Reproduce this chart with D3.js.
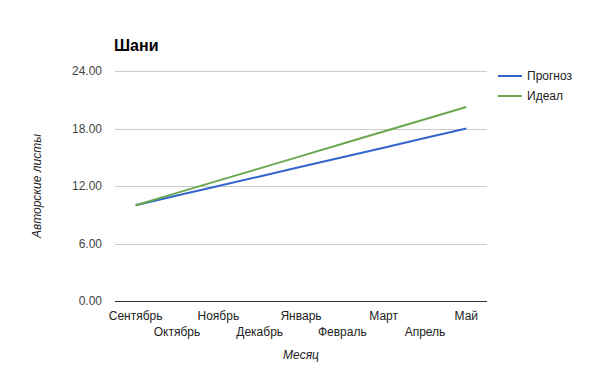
<!DOCTYPE html>
<html>
<head>
<meta charset="utf-8">
<script src="https://cdn.jsdelivr.net/npm/d3@7"></script>
<style>
  html, body { margin: 0; padding: 0; background: #fff; overflow: hidden; }
  svg { display: block; }
  text { font-family: "Liberation Sans", Arial, sans-serif; }
</style>
</head>
<body>
<script>
var width = 600, height = 373;
var margin = {left: 115, top: 71, right: 113, bottom: 72};

// Months
var months = ["Сентябрь", "Октябрь", "Ноябрь", "Декабрь", "Январь", "Февраль", "Март", "Апрель", "Май"];
// Series
var forecast = [10, 11, 12, 13, 14, 15, 16, 17, 18];
var ideal = [10, 11.28, 12.56, 13.84, 15.12, 16.4, 17.68, 18.96, 20.25];
var yTicks = [0, 6, 12, 18, 24];
var seriesNames = ["Прогноз", "Идеал"];
var colors = ["#3366cc", "#6aa84f"];

var svg = d3.select("body").append("svg")
    .attr("width", width)
    .attr("height", height);

var innerWidth = width - margin.left - margin.right;
var innerHeight = height - margin.top - margin.bottom;

var x = d3.scalePoint()
    .domain(months)
    .range([margin.left, margin.left + innerWidth])
    .padding(0.5);

var y = d3.scaleLinear()
    .domain([0, 24])
    .range([margin.top + innerHeight, margin.top]);

// title
svg.append("text")
    .attr("x", 114)
    .attr("y", 51)
    .attr("font-size", 16)
    .attr("font-weight", "bold")
    .attr("fill", "#000")
    .text("Шани");

// gridlines + y labels
svg.append("g").selectAll("line")
    .data(yTicks)
    .enter().append("line")
    .attr("x1", margin.left)
    .attr("x2", margin.left + innerWidth)
    .attr("y1", function(d) { return Math.round(y(d)) + 0.5; })
    .attr("y2", function(d) { return Math.round(y(d)) + 0.5; })
    .attr("stroke", function(d) { return d === 0 ? "#333" : "#ccc"; })
    .attr("stroke-width", 1);

svg.append("g").selectAll("text")
    .data(yTicks)
    .enter().append("text")
    .attr("x", 102)
    .attr("y", function(d) { return y(d) + 4; })
    .attr("text-anchor", "end")
    .attr("font-size", 12)
    .attr("fill", "#444")
    .text(function(d) { return d3.format(".2f")(d); });

// x labels, two rows
svg.append("g").selectAll("text")
    .data(months)
    .enter().append("text")
    .attr("x", function(d) { return x(d); })
    .attr("y", function(d, i) { return i % 2 === 0 ? 320 : 336; })
    .attr("text-anchor", "middle")
    .attr("font-size", 12)
    .attr("fill", "#222")
    .text(function(d) { return d; });

// axis titles
svg.append("text")
    .attr("x", x("Январь"))
    .attr("y", 359)
    .attr("text-anchor", "middle")
    .attr("font-size", 12)
    .attr("font-style", "italic")
    .attr("fill", "#222")
    .text("Месяц");

svg.append("text")
    .attr("transform", "translate(41," + (margin.top + innerHeight / 2) + ") rotate(-90)")
    .attr("text-anchor", "middle")
    .attr("font-size", 12)
    .attr("font-style", "italic")
    .attr("fill", "#222")
    .text("Авторские листы");

// lines
var line = d3.line()
    .x(function(d, i) { return x(months[i]); })
    .y(function(d) { return y(d); });

[forecast, ideal].forEach(function(s, k) {
    svg.append("path")
        .datum(s)
        .attr("d", line)
        .attr("fill", "none")
        .attr("stroke", colors[k])
        .attr("stroke-width", 2);
});

// legend
var legend = svg.append("g").selectAll("g")
    .data(seriesNames)
    .enter().append("g")
    .attr("transform", function(d, i) { return "translate(498," + (76 + i * 20) + ")"; });

legend.append("line")
    .attr("x1", 0).attr("x2", 24)
    .attr("stroke", function(d, i) { return colors[i]; })
    .attr("stroke-width", 2);

legend.append("text")
    .attr("x", 29)
    .attr("y", 4)
    .attr("font-size", 12)
    .attr("fill", "#222")
    .text(function(d) { return d; });
</script>
</body>
</html>
